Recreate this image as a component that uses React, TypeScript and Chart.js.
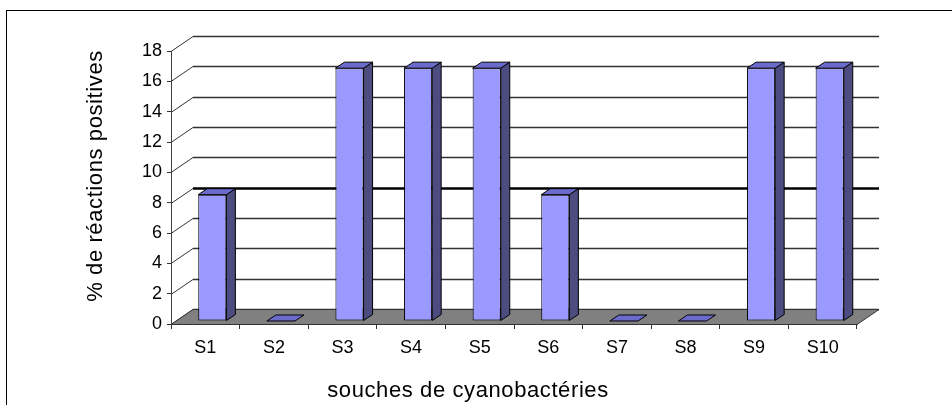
import React, { useEffect, useRef } from 'react';
import { Chart, registerables } from 'chart.js';

Chart.register(...registerables);

// ---- data ----
const categories = ['S1', 'S2', 'S3', 'S4', 'S5', 'S6', 'S7', 'S8', 'S9', 'S10'];
const positivePct = [8.33, 0, 16.67, 16.67, 16.67, 8.33, 0, 0, 16.67, 16.67];
const yMin = 0;
const yMax = 18;
const yStep = 2;
const emphasizedGridValue = 8;
const yTitle = '% de réactions positives';
const xTitle = 'souches de cyanobactéries';

// ---- styles / geometry ----
const FONT = '"Liberation Sans", Arial, Helvetica, sans-serif';
const WALL = { dx: 22, dy: -15 };
const BAR_DEPTH = { dx: 9, dy: -6 };
const BAR_SHIFT = { dx: 7, dy: -3 };
const COLORS = {
  front: '#9999ff',
  top: '#6b6bcc',
  side: '#4c4c80',
  floor: '#808080',
  grid: '#333333',
  outline: '#000000',
};
const Y_TITLE_POS = { x: 101.5, y: 176 };
const X_TITLE_POS = { x: 468, y: 397 };

function poly(ctx: CanvasRenderingContext2D, pts: number[][], fill: string, stroke: string, lw = 1) {
  ctx.beginPath();
  ctx.moveTo(pts[0][0], pts[0][1]);
  for (let i = 1; i < pts.length; i++) ctx.lineTo(pts[i][0], pts[i][1]);
  ctx.closePath();
  ctx.fillStyle = fill;
  ctx.fill();
  ctx.strokeStyle = stroke;
  ctx.lineWidth = lw;
  ctx.stroke();
}

const threeDPlugin = {
  id: 'threeD',
  beforeDatasetsDraw(chart: any) {
    const { ctx, chartArea: a, scales } = chart;
    const ys = scales.y;
    ctx.save();
    // side wall diagonals and back wall grid lines
    ys.ticks.forEach((t: any) => {
      const py = Math.round(ys.getPixelForValue(t.value)) + 0.5;
      ctx.beginPath();
      ctx.moveTo(a.left, py);
      ctx.lineTo(a.left + WALL.dx, py + WALL.dy);
      ctx.strokeStyle = COLORS.grid;
      ctx.lineWidth = 1;
      ctx.stroke();
      ctx.beginPath();
      ctx.moveTo(a.left + WALL.dx, py + WALL.dy);
      ctx.lineTo(a.right + WALL.dx, py + WALL.dy);
      ctx.strokeStyle = t.value === emphasizedGridValue ? '#000' : COLORS.grid;
      ctx.lineWidth = t.value === emphasizedGridValue ? 2.5 : 1.3;
      ctx.stroke();
    });
    // floor
    const y0 = Math.round(ys.getPixelForValue(yMin)) + 0.5;
    poly(
      ctx,
      [
        [a.left, y0],
        [a.right, y0],
        [a.right + WALL.dx, y0 + WALL.dy],
        [a.left + WALL.dx, y0 + WALL.dy],
      ],
      COLORS.floor,
      COLORS.grid,
      1
    );
    ctx.restore();
    // shift the bar front faces back into depth
    ctx.save();
    ctx.translate(BAR_SHIFT.dx, BAR_SHIFT.dy);
  },
  afterDatasetsDraw(chart: any) {
    const { ctx } = chart;
    const meta = chart.getDatasetMeta(0);
    meta.data.forEach((bar: any) => {
      const { x, y, base, width } = bar.getProps(['x', 'y', 'base', 'width'], true);
      const l = x - width / 2;
      const r = x + width / 2;
      if (base - y > 0.5) {
        poly(
          ctx,
          [
            [r, y],
            [r + BAR_DEPTH.dx, y + BAR_DEPTH.dy],
            [r + BAR_DEPTH.dx, base + BAR_DEPTH.dy],
            [r, base],
          ],
          COLORS.side,
          COLORS.outline
        );
      }
      poly(
        ctx,
        [
          [l, y],
          [r, y],
          [r + BAR_DEPTH.dx, y + BAR_DEPTH.dy],
          [l + BAR_DEPTH.dx, y + BAR_DEPTH.dy],
        ],
        COLORS.top,
        COLORS.outline
      );
    });
    ctx.restore();
  },
  afterDraw(chart: any) {
    const { ctx } = chart;
    ctx.save();
    ctx.fillStyle = '#000';
    ctx.font = `22px ${FONT}`;
    try {
      (ctx as any).letterSpacing = '0.6px';
    } catch (e) {}
    ctx.textAlign = 'center';
    ctx.textBaseline = 'alphabetic';
    ctx.fillText(xTitle, X_TITLE_POS.x, X_TITLE_POS.y);
    ctx.translate(Y_TITLE_POS.x, Y_TITLE_POS.y);
    ctx.rotate(-Math.PI / 2);
    ctx.fillText(yTitle, 0, 0);
    ctx.restore();
  },
};

export default function App() {
  const ref = useRef<HTMLCanvasElement>(null);

  useEffect(() => {
    if (!ref.current) return;
    const chart = new Chart(ref.current, {
      type: 'bar',
      data: {
        labels: categories,
        datasets: [
          {
            data: positivePct,
            backgroundColor: COLORS.front,
            borderColor: COLORS.outline,
            borderWidth: 1,
            borderSkipped: false,
            barPercentage: 0.41,
            categoryPercentage: 1,
          },
        ],
      },
      options: {
        responsive: false,
        animation: false,
        devicePixelRatio: 1,
        layout: { padding: { top: 51, right: 95, bottom: 0, left: 0 } },
        plugins: {
          legend: { display: false },
          tooltip: { enabled: false },
        },
        scales: {
          x: {
            afterFit: (s: any) => {
              s.height = 81;
            },
            grid: {
              drawOnChartArea: false,
              drawTicks: true,
              tickLength: 5,
              color: COLORS.grid,
              offset: true,
            },
            border: { display: true, color: COLORS.grid },
            ticks: {
              color: '#000',
              padding: 8,
              font: { family: FONT, size: 18 },
              maxRotation: 0,
              autoSkip: false,
            },
          },
          y: {
            min: yMin,
            max: yMax,
            afterFit: (s: any) => {
              s.width = 171;
            },
            grid: {
              drawOnChartArea: false,
              drawTicks: true,
              tickLength: 4,
              color: COLORS.grid,
            },
            border: { display: true, color: '#404040' },
            ticks: {
              stepSize: yStep,
              color: '#000',
              padding: 5,
              font: { family: FONT, size: 18 },
            },
          },
        },
      },
      plugins: [threeDPlugin],
    });
    return () => chart.destroy();
  }, []);

  return (
    <div
      style={{
        position: 'fixed',
        left: 0,
        top: 0,
        width: 952,
        height: 405,
        overflow: 'hidden',
        background: '#fff',
      }}
    >
      <div
        style={{
          position: 'absolute',
          left: 6,
          top: 10,
          width: 1000,
          height: 500,
          border: '1px solid #000',
          boxSizing: 'border-box',
        }}
      />
      <canvas
        ref={ref}
        width={952}
        height={405}
        style={{ position: 'absolute', left: 0, top: 0, width: 952, height: 405 }}
      />
    </div>
  );
}
